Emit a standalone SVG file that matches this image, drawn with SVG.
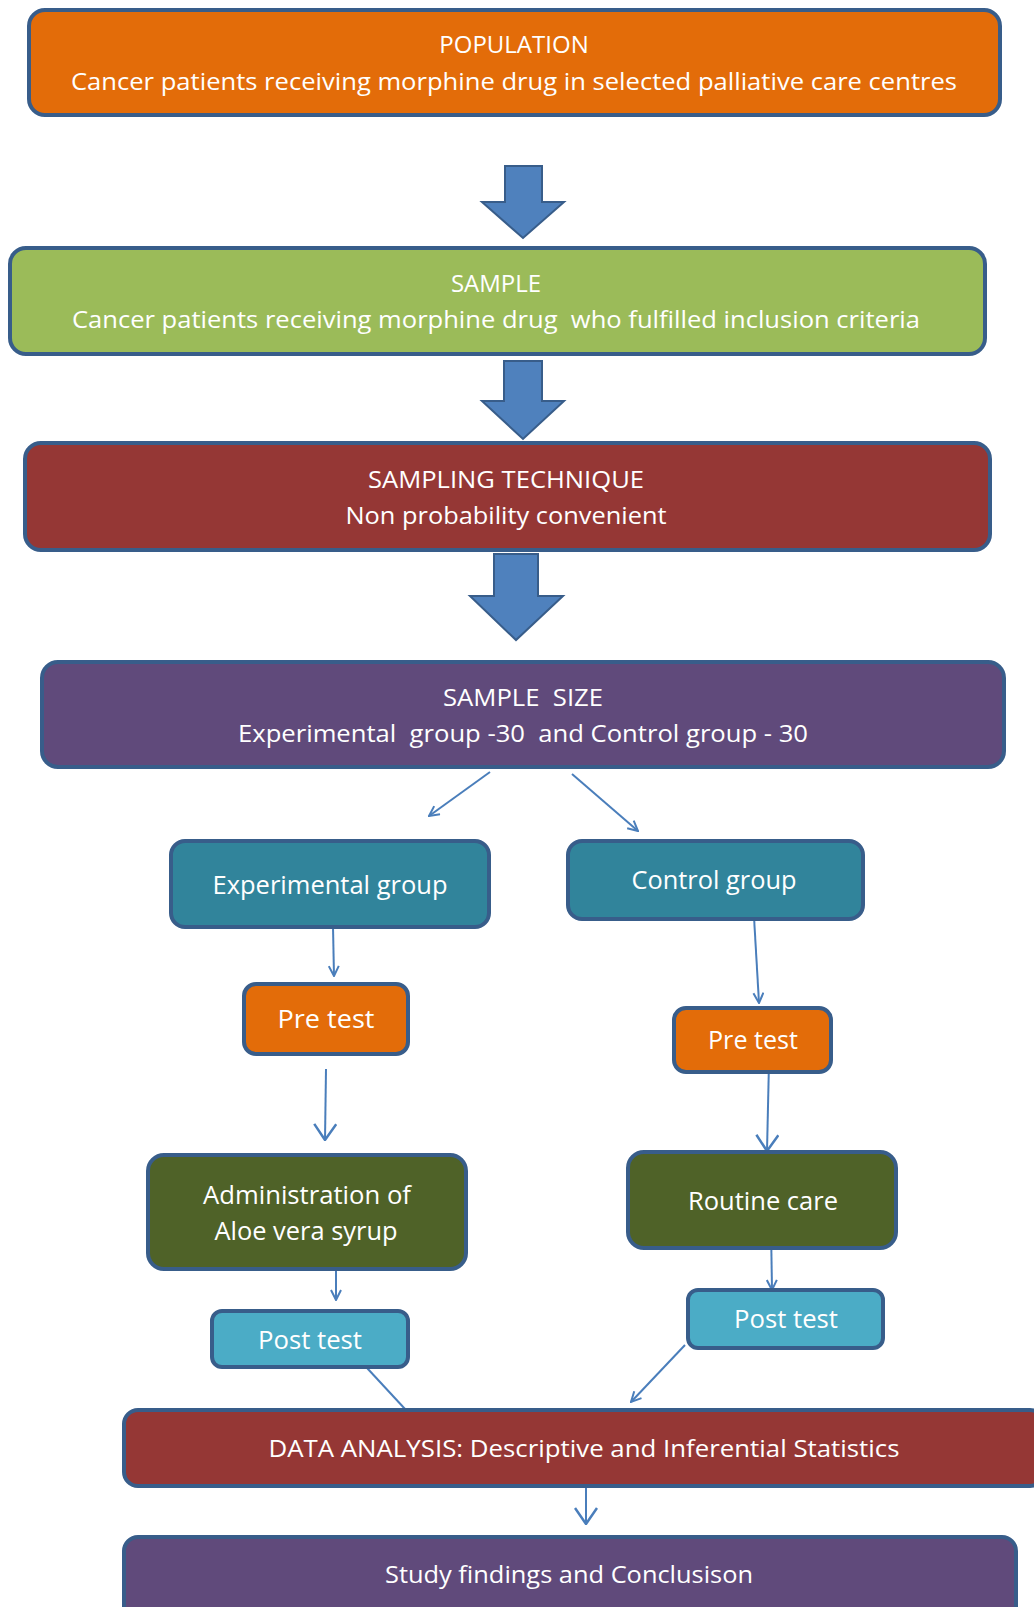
<svg xmlns="http://www.w3.org/2000/svg" width="1034" height="1607" viewBox="0 0 1034 1607">
<style>
.box{stroke:#385D8A;stroke-width:4}
.t{font-family:"Open Sans","Liberation Sans",sans-serif;fill:#FFFFFF;text-anchor:middle;font-size:24px;white-space:pre}
.ts{font-family:"Open Sans","Liberation Sans",sans-serif;fill:#FFFFFF;text-anchor:middle;font-size:26px;white-space:pre}
.blk{fill:#4F81BD;stroke:#385D8A;stroke-width:2}
.ln{stroke:#4A7EBB;stroke-width:2;fill:none}
</style>
<defs>
<marker id="ah" viewBox="0 0 12 12" refX="11" refY="6" markerWidth="12" markerHeight="12" markerUnits="userSpaceOnUse" orient="auto">
<path d="M1,1 L11,6 L1,11" fill="none" stroke="#4A7EBB" stroke-width="2"/>
</marker>
<marker id="ahb" viewBox="0 0 18 24" refX="17" refY="12" markerWidth="18" markerHeight="24" markerUnits="userSpaceOnUse" orient="auto">
<path d="M1,1 L17,12 L1,23" fill="none" stroke="#4A7EBB" stroke-width="2.5"/>
</marker>
</defs>
<rect width="1034" height="1607" fill="#FFFFFF"/>
<g id="connectors">
<path id="blk1" class="blk" d="M505,166 H542 V202 H564 L523,238 L482,202 H505 Z"/>
<path id="blk2" class="blk" d="M504,361 H542 V401 H564 L523,439 L482,401 H504 Z"/>
<path id="blk3" class="blk" d="M494,554 H538 V596 H563 L516,640 L470,596 H494 Z"/>
<line class="ln" x1="490" y1="772" x2="429" y2="816" marker-end="url(#ah)"/>
<line class="ln" x1="572" y1="774" x2="638" y2="831" marker-end="url(#ah)"/>
<line class="ln" x1="333" y1="927" x2="334" y2="976" marker-end="url(#ah)"/>
<line class="ln" x1="326" y1="1069" x2="325" y2="1140" marker-end="url(#ahb)"/>
<line class="ln" x1="336" y1="1250" x2="336" y2="1300" marker-end="url(#ah)"/>
<line class="ln" x1="355" y1="1355" x2="405" y2="1409" stroke-width="1.5"/>
<line class="ln" x1="754" y1="917" x2="759" y2="1003" marker-end="url(#ah)"/>
<line class="ln" x1="769" y1="1062" x2="767" y2="1151" marker-end="url(#ahb)"/>
<line class="ln" x1="771" y1="1227" x2="772" y2="1290" marker-end="url(#ah)"/>
<line class="ln" x1="685" y1="1345" x2="631" y2="1402" stroke-width="1.5" marker-end="url(#ah)"/>
<line class="ln" x1="586" y1="1486" x2="586" y2="1524" marker-end="url(#ahb)"/>
</g>
<g id="population">
<rect class="box" x="29" y="10" width="971" height="105" rx="16" fill="#E36C09"/>
<text class="t" x="514" y="53">POPULATION</text>
<text class="t" x="514" y="90" textLength="886" lengthAdjust="spacingAndGlyphs">Cancer patients receiving morphine drug in selected palliative care centres</text>
</g>
<g id="sample">
<rect class="box" x="10" y="248" width="975" height="106" rx="16" fill="#9BBB59"/>
<text class="t" x="496" y="292">SAMPLE</text>
<text class="t" x="496" y="328" textLength="848" lengthAdjust="spacingAndGlyphs">Cancer patients receiving morphine drug  who fulfilled inclusion criteria</text>
</g>
<g id="sampling">
<rect class="box" x="25" y="443" width="965" height="107" rx="16" fill="#953735"/>
<text class="t" x="506" y="488" textLength="276" lengthAdjust="spacingAndGlyphs">SAMPLING TECHNIQUE</text>
<text class="t" x="506" y="524" textLength="321" lengthAdjust="spacingAndGlyphs">Non probability convenient</text>
</g>
<g id="samplesize">
<rect class="box" x="42" y="662" width="962" height="105" rx="16" fill="#604A7B"/>
<text class="t" x="523" y="706" textLength="160" lengthAdjust="spacingAndGlyphs">SAMPLE  SIZE</text>
<text class="t" x="523" y="742" textLength="570" lengthAdjust="spacingAndGlyphs">Experimental  group -30  and Control group - 30</text>
</g>
<g id="expgroup">
<rect class="box" x="171" y="841" width="318" height="86" rx="14" fill="#31849B"/>
<text class="ts" x="330" y="894" textLength="235" lengthAdjust="spacingAndGlyphs">Experimental group</text>
</g>
<g id="ctrlgroup">
<rect class="box" x="568" y="841" width="295" height="78" rx="14" fill="#31849B"/>
<text class="ts" x="714" y="889" textLength="165" lengthAdjust="spacingAndGlyphs">Control group</text>
</g>
<g id="pretest1">
<rect class="box" x="244" y="984" width="164" height="70" rx="12" fill="#E36C09"/>
<text class="ts" x="326" y="1028" textLength="97" lengthAdjust="spacingAndGlyphs">Pre test</text>
</g>
<g id="pretest2">
<rect class="box" x="674" y="1008" width="157" height="64" rx="12" fill="#E36C09"/>
<text class="ts" x="753" y="1049" textLength="90" lengthAdjust="spacingAndGlyphs">Pre test</text>
</g>
<g id="admin">
<rect class="box" x="148" y="1155" width="318" height="114" rx="16" fill="#4F6228"/>
<text class="ts" x="307" y="1204" textLength="208" lengthAdjust="spacingAndGlyphs">Administration of</text>
<text class="ts" x="306" y="1240" textLength="183" lengthAdjust="spacingAndGlyphs">Aloe vera syrup</text>
</g>
<g id="routine">
<rect class="box" x="628" y="1152" width="268" height="96" rx="16" fill="#4F6228"/>
<text class="ts" x="763" y="1210" textLength="150" lengthAdjust="spacingAndGlyphs">Routine care</text>
</g>
<g id="posttest1">
<rect class="box" x="212" y="1311" width="196" height="56" rx="10" fill="#4BACC6"/>
<text class="ts" x="310" y="1349" textLength="104" lengthAdjust="spacingAndGlyphs">Post test</text>
</g>
<g id="posttest2">
<rect class="box" x="688" y="1290" width="195" height="58" rx="10" fill="#4BACC6"/>
<text class="ts" x="786" y="1328" textLength="104" lengthAdjust="spacingAndGlyphs">Post test</text>
</g>
<g id="analysis">
<rect class="box" x="124" y="1410" width="920" height="76" rx="14" fill="#953735"/>
<text class="t" x="584" y="1457" textLength="631" lengthAdjust="spacingAndGlyphs">DATA ANALYSIS: Descriptive and Inferential Statistics</text>
</g>
<g id="findings">
<rect class="box" x="124" y="1537" width="892" height="90" rx="14" fill="#604A7B"/>
<text class="t" x="569" y="1583" textLength="368" lengthAdjust="spacingAndGlyphs">Study findings and Conclusison</text>
</g>
</svg>
